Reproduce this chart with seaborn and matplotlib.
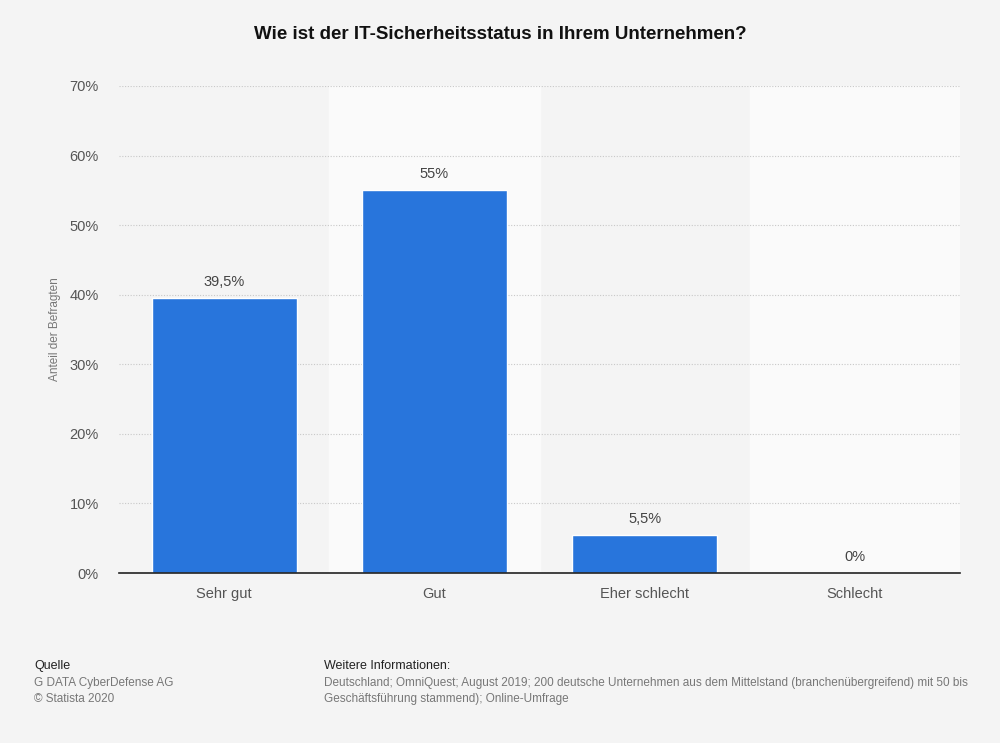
import matplotlib
matplotlib.use("Agg")
import matplotlib.pyplot as plt
import pandas as pd
import seaborn as sns

categories = ["Sehr gut", "Gut", "Eher schlecht", "Schlecht"]
shares = [39.5, 55.0, 5.5, 0.0]
value_labels = ["39,5%", "55%", "5,5%", "0%"]
yticks = [0, 10, 20, 30, 40, 50, 60, 70]

df = pd.DataFrame({"Kategorie": categories, "Anteil": shares})

sns.set_theme(style="white")
plt.rcParams["font.family"] = ["Liberation Sans", "DejaVu Sans"]

bg = "#f4f4f4"
fig = plt.figure(figsize=(10, 7.43), dpi=100, facecolor=bg)
ax = fig.add_axes([0.119, 0.2288, 0.841, 0.6555])
ax.set_facecolor(bg)

# alternating column bands
for i in range(len(categories)):
    if i % 2 == 1:
        ax.axvspan(i - 0.5, i + 0.5, color="#fafafa", zorder=0)

sns.barplot(data=df, x="Kategorie", y="Anteil", color="#2875dc",
            width=0.69, saturation=1, ax=ax, zorder=3)

for i, (v, lab) in enumerate(zip(shares, value_labels)):
    ax.text(i, v + 1.3, lab, ha="center", va="bottom", fontsize=10.5,
            color="#444444", zorder=4)

ax.set_xlim(-0.5, len(categories) - 0.5)
ax.set_ylim(0, 70)
ax.set_yticks(yticks)
ax.set_yticklabels([f"{t}%" for t in yticks], fontsize=10.5, color="#555555")
ax.tick_params(axis="y", length=0, pad=14.5)
ax.tick_params(axis="x", length=0, pad=10, labelsize=10.5, labelcolor="#555555")
ax.grid(axis="y", linestyle=(0, (1, 1.5)), color="#c8c8c8", linewidth=0.8, zorder=1)
ax.set_axisbelow(True)

for s in ["top", "right", "left"]:
    ax.spines[s].set_visible(False)
ax.spines["bottom"].set_color("#222222")
ax.spines["bottom"].set_linewidth(1.2)
ax.spines["bottom"].set_zorder(5)

ax.set_xlabel("")
ax.set_ylabel("Anteil der Befragten", fontsize=8.5, color="#777777", labelpad=6)

fig.text(0.5, 0.953, "Wie ist der IT-Sicherheitsstatus in Ihrem Unternehmen?",
         ha="center", va="center", fontsize=13.5, fontweight="bold", color="#111111")

fig.text(0.034, 0.103, "Quelle", fontsize=9, color="#222222", va="center")
fig.text(0.034, 0.081, "G DATA CyberDefense AG", fontsize=8.5, color="#777777", va="center")
fig.text(0.034, 0.059, "© Statista 2020", fontsize=8.5, color="#777777", va="center")

fig.text(0.324, 0.103, "Weitere Informationen:", fontsize=9, color="#222222", va="center")
fig.text(0.324, 0.081,
         "Deutschland; OmniQuest; August 2019; 200 deutsche Unternehmen aus dem Mittelstand "
         "(branchenübergreifend) mit 50 bis",
         fontsize=8.5, color="#777777", va="center")
fig.text(0.324, 0.059, "Geschäftsführung stammend); Online-Umfrage",
         fontsize=8.5, color="#777777", va="center")

fig.savefig("out.png", dpi=100, facecolor=bg)
